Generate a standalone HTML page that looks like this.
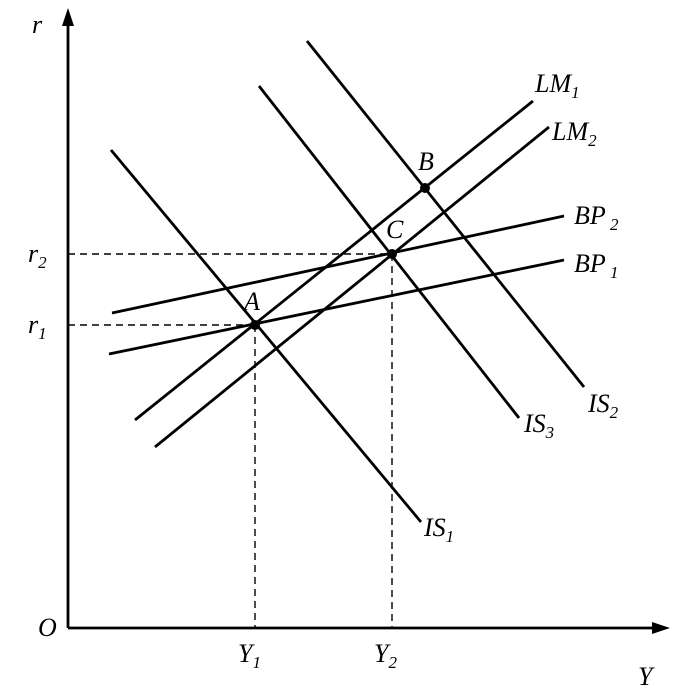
<!DOCTYPE html>
<html><head><meta charset="utf-8"><style>
html,body{margin:0;padding:0;background:#fff;}
svg{display:block;}
text{font-family:"Liberation Serif",serif;font-style:italic;font-size:26px;fill:#000;}
.s{font-size:17px;}
</style></head><body>
<svg width="678" height="689" viewBox="0 0 678 689" xmlns="http://www.w3.org/2000/svg">
<g stroke="#000" stroke-width="2.8" fill="none">
<line x1="68" y1="628" x2="68" y2="22"/>
<line x1="68" y1="628" x2="656" y2="628"/>
<line x1="111" y1="150" x2="421" y2="522"/>
<line x1="259" y1="86" x2="519" y2="418"/>
<line x1="307" y1="41" x2="584" y2="387"/>
<line x1="135" y1="420" x2="533" y2="101"/>
<line x1="155" y1="447" x2="549" y2="127"/>
<line x1="112" y1="313" x2="564" y2="216"/>
<line x1="109" y1="354" x2="564" y2="260"/>
</g>
<polygon points="68,8 62,26 74,26" fill="#000"/>
<polygon points="670,628 652,622 652,634" fill="#000"/>
<g stroke="#000" stroke-width="1.4" stroke-dasharray="7,5" fill="none">
<line x1="68" y1="254" x2="392" y2="254"/>
<line x1="392" y1="254" x2="392" y2="628"/>
<line x1="68" y1="325" x2="255" y2="325"/>
<line x1="255" y1="325" x2="255" y2="628"/>
</g>
<circle cx="255" cy="325" r="5" fill="#000"/>
<circle cx="425" cy="188" r="5" fill="#000"/>
<circle cx="392" cy="254" r="5" fill="#000"/>
<text x="32" y="33">r</text>
<text x="28" y="262">r<tspan class="s" dy="6">2</tspan></text>
<text x="28" y="333">r<tspan class="s" dy="6">1</tspan></text>
<text x="38" y="636">O</text>
<text x="238" y="662">Y<tspan class="s" dy="6">1</tspan></text>
<text x="374" y="662">Y<tspan class="s" dy="6">2</tspan></text>
<text x="638" y="685">Y</text>
<text x="535" y="92">LM<tspan class="s" dy="6">1</tspan></text>
<text x="552" y="140">LM<tspan class="s" dy="6">2</tspan></text>
<text x="574" y="224">BP<tspan class="s" dy="6"> 2</tspan></text>
<text x="574" y="272">BP<tspan class="s" dy="6"> 1</tspan></text>
<text x="588" y="412">IS<tspan class="s" dy="6">2</tspan></text>
<text x="524" y="432">IS<tspan class="s" dy="6">3</tspan></text>
<text x="424" y="536">IS<tspan class="s" dy="6">1</tspan></text>
<text x="418" y="170">B</text>
<text x="386" y="238">C</text>
<text x="244" y="310">A</text>
</svg>
</body></html>
